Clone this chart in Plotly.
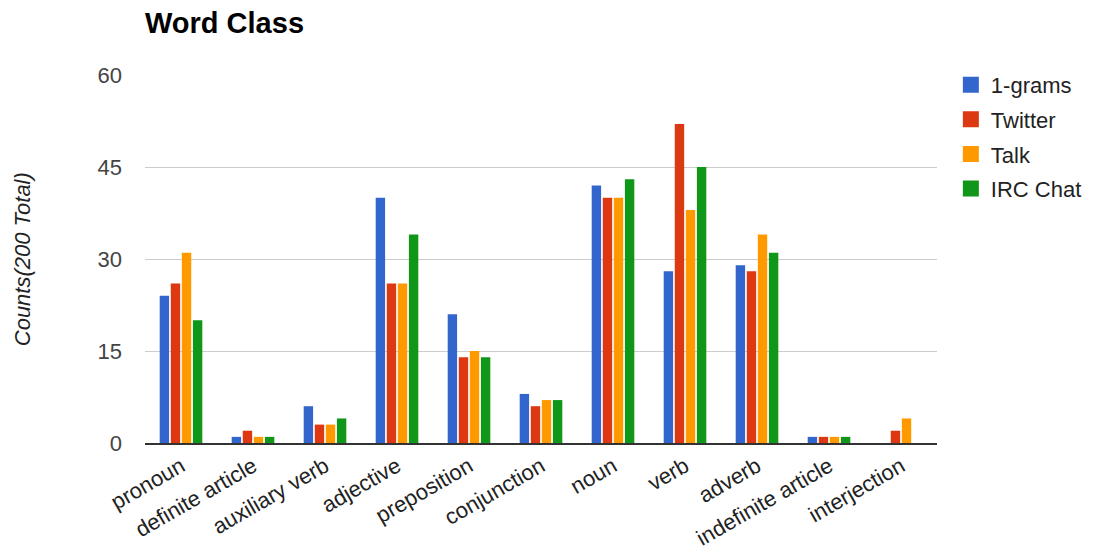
import plotly.graph_objects as go

categories = ["pronoun", "definite article", "auxiliary verb", "adjective", "preposition",
              "conjunction", "noun", "verb", "adverb", "indefinite article", "interjection"]
series_names = ["1-grams", "Twitter", "Talk", "IRC Chat"]
onegrams = [24, 1, 6, 40, 21, 8, 42, 28, 29, 1, 0]
twitter = [26, 2, 3, 26, 14, 6, 40, 52, 28, 1, 2]
talk = [31, 1, 3, 26, 15, 7, 40, 38, 34, 1, 4]
irc_chat = [20, 1, 4, 34, 14, 7, 43, 45, 31, 1, 0]
colors = ["#3366cc", "#dc3912", "#ff9900", "#109618"]
y_ticks = [0, 15, 30, 45, 60]

FONT = "Liberation Sans, Arial, sans-serif"

fig = go.Figure()
for name, vals, c in zip(series_names, [onegrams, twitter, talk, irc_chat], colors):
    fig.add_trace(go.Bar(x=categories, y=vals, name=name, marker_color=c,
                         marker_line_width=0, showlegend=False, legendgroup=name))
# legend swatches (larger squares, as in the reference)
for name, c in zip(series_names, colors):
    fig.add_trace(go.Scatter(x=[None], y=[None], mode="markers", name=name,
                             legendgroup=name,
                             marker=dict(symbol="square", size=16, color=c)))

fig.add_annotation(text="<i>Counts(200 Total)</i>", textangle=-90,
                   xref="paper", yref="paper", x=-0.155, y=0.5,
                   xanchor="center", yanchor="middle", showarrow=False,
                   font=dict(family=FONT, size=22, color="#222222"))

fig.update_layout(
    width=1091, height=542,
    paper_bgcolor="white", plot_bgcolor="white",
    margin=dict(l=137, r=154, t=67, b=107),
    barmode="group", bargap=0.385, bargroupgap=0.15,
    font=dict(family=FONT, color="#444444", size=22),
    title=dict(text="<b>Word Class</b>", x=137/1091, xanchor="left", xref="container",
               y=0.972, yanchor="middle", yref="container",
               font=dict(size=29, color="#000000")),
    legend=dict(x=1.0175, y=1.03, xanchor="left", yanchor="top",
                font=dict(size=22, color="#222222"), itemsizing="trace",
                tracegroupgap=3),
    xaxis=dict(tickangle=-30, tickfont=dict(size=22, color="#222222"),
               showline=True, linecolor="#333333", linewidth=2, ticks="",
               showgrid=False, automargin=False),
    yaxis=dict(range=[0, 60], tickvals=y_ticks, showgrid=True, gridcolor="#cccccc",
               gridwidth=1, zeroline=False, ticks="", ticklabelstandoff=22,
               tickfont=dict(size=22, color="#444444"), automargin=False),
)
fig.write_html("out.html")
